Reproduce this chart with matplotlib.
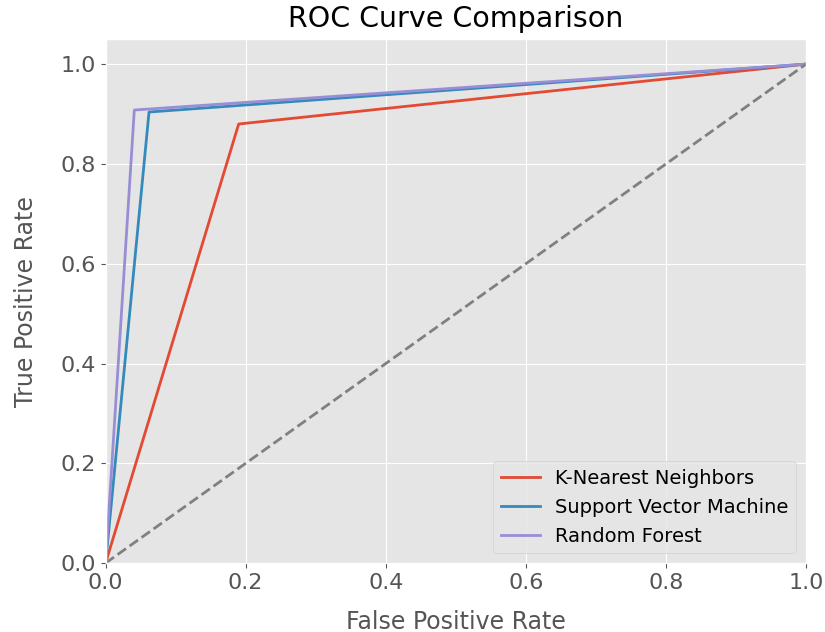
import matplotlib
matplotlib.use("Agg")
import matplotlib.pyplot as plt

# ROC points (binary predictions -> 3-point curves)
models = ["K-Nearest Neighbors", "Support Vector Machine", "Random Forest"]
fpr_knn = [0.0, 0.19, 1.0]
tpr_knn = [0.0, 0.88, 1.0]
fpr_svm = [0.0, 0.062, 1.0]
tpr_svm = [0.0, 0.904, 1.0]
fpr_rf = [0.0, 0.041, 1.0]
tpr_rf = [0.0, 0.908, 1.0]

plt.style.use("ggplot")
plt.rcParams["font.size"] = 13

fig = plt.figure(figsize=(8.25, 6.32), dpi=100)
ax = fig.add_axes([0.128, 0.109, 0.849, 0.829])

ax.plot(fpr_knn, tpr_knn, label=models[0], linewidth=2)
ax.plot(fpr_svm, tpr_svm, label=models[1], linewidth=2)
ax.plot(fpr_rf, tpr_rf, label=models[2], linewidth=2)
ax.plot([0, 1], [0, 1], linestyle="--", color="gray", linewidth=2)

ax.set_xlim([0.0, 1.0])
ax.set_ylim([0.0, 1.05])
ax.set_xlabel("False Positive Rate", fontsize=17, labelpad=12)
ax.set_ylabel("True Positive Rate", fontsize=17, labelpad=16)
ax.set_title("ROC Curve Comparison", fontsize=20.5, pad=9)
ax.tick_params(labelsize=16)
ax.legend(loc="lower right", fontsize=14)

fig.savefig("out.png", dpi=100)
